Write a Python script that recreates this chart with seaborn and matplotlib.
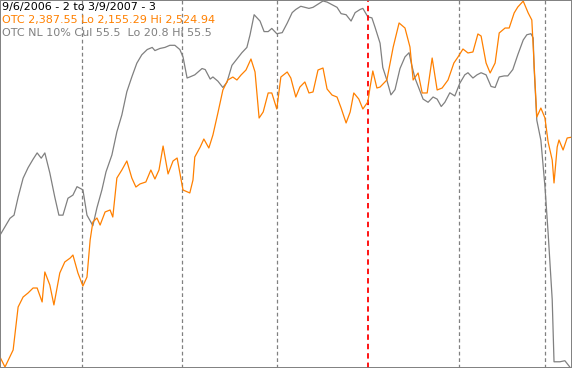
import matplotlib
matplotlib.use("Agg")
import matplotlib.pyplot as plt
import seaborn as sns
import pandas as pd

# ---- data (trading-day index from 9/6/2006) ----
otc_day = [0.0, 1.1, 2.9, 4.0, 5.1, 6.2, 7.3, 8.2, 9.3, 9.9, 11.0, 11.9, 13.2, 14.3, 15.5, 16.1, 17.2,
           18.3, 19.2, 19.9, 20.5, 21.4, 22.1, 23.2, 24.3, 24.9, 25.8, 26.9, 28.0, 29.1, 30.0, 30.9,
           32.2, 33.3, 34.2, 35.1, 36.0, 37.1, 38.2, 39.1, 40.4, 41.9, 42.6, 43.0, 44.2, 45.0, 46.1,
           47.0, 48.1, 49.2, 50.3, 51.4, 52.3, 53.2, 54.3, 55.4, 56.3, 57.2, 58.1, 59.2, 60.0, 61.1,
           62.0, 63.4, 64.2, 65.3, 66.2, 67.3, 68.2, 69.1, 70.2, 71.3, 72.2, 73.3, 74.4, 75.3, 76.4,
           77.3, 78.1, 79.2, 80.1, 81.2, 81.7, 82.3, 83.2, 83.9, 85.4, 86.8, 88.1, 89.4, 90.5, 91.2,
           92.3, 93.2, 94.3, 95.4, 96.5, 97.6, 98.9, 100.2, 101.1, 102.2, 103.3, 104.4, 105.5, 106.2,
           107.3, 108.2, 109.3, 110.2, 111.5, 112.4, 113.5, 114.3, 115.5, 116.6, 117.4, 117.9, 118.5,
           119.4, 120.3, 121.0, 121.9, 122.3, 123.0, 123.4, 124.3, 125.2, 126.3]
otc_val = [2165.4, 2155.3, 2172.5, 2215.9, 2226.0, 2230.1, 2235.1, 2235.1, 2221.0, 2251.3, 2238.1,
           2218.0, 2250.3, 2261.4, 2265.4, 2268.4, 2250.3, 2237.1, 2246.2, 2283.6, 2301.8, 2305.8,
           2298.7, 2311.9, 2313.9, 2306.8, 2346.2, 2354.3, 2363.4, 2346.2, 2337.1, 2340.2, 2342.2,
           2354.3, 2345.2, 2354.3, 2378.5, 2350.3, 2363.4, 2366.4, 2334.1, 2331.1, 2344.2, 2367.4,
           2377.5, 2385.6, 2376.5, 2389.6, 2411.9, 2435.1, 2445.2, 2448.2, 2445.2, 2450.2, 2455.3,
           2466.4, 2453.3, 2406.8, 2412.9, 2432.1, 2432.1, 2415.9, 2448.2, 2453.3, 2447.2, 2428.0,
           2438.1, 2443.2, 2432.1, 2433.1, 2455.3, 2457.3, 2436.1, 2430.0, 2428.0, 2416.9, 2401.8,
           2412.9, 2432.1, 2426.0, 2415.9, 2423.0, 2438.1, 2454.3, 2437.1, 2438.1, 2445.2, 2478.5,
           2502.8, 2497.7, 2478.5, 2445.2, 2452.3, 2432.1, 2432.1, 2467.4, 2435.1, 2437.1, 2445.2,
           2462.4, 2468.4, 2476.5, 2472.5, 2473.5, 2491.7, 2489.6, 2462.4, 2452.3, 2462.4, 2492.7,
           2497.7, 2497.7, 2512.9, 2518.9, 2524.9, 2512.9, 2505.8, 2460.3, 2407.8, 2416.9, 2406.8,
           2382.6, 2364.4, 2341.2, 2377.5, 2384.6, 2374.5, 2386.6, 2387.55]

nl_day = [0.0, 1.1, 2.2, 3.1, 4.0, 5.1, 6.2, 7.3, 8.2, 9.1, 9.9, 11.0, 12.1, 13.0, 13.9, 15.0, 16.1,
          17.0, 18.3, 19.2, 20.5, 21.4, 22.5, 23.4, 24.7, 25.8, 26.9, 28.0, 29.1, 30.2, 31.3, 32.5,
          33.6, 34.2, 35.3, 36.4, 37.5, 38.6, 39.7, 40.4, 41.3, 41.9, 43.0, 44.6, 45.3, 46.4, 47.0,
          48.1, 49.2, 50.1, 51.2, 52.3, 53.4, 54.5, 55.2, 56.1, 57.4, 58.3, 59.2, 60.0, 61.1, 62.3,
          63.4, 64.5, 65.3, 66.4, 67.3, 68.2, 69.1, 70.2, 71.3, 72.2, 73.5, 74.4, 75.3, 76.4, 77.5,
          78.4, 79.5, 80.1, 81.2, 82.1, 82.8, 83.9, 84.5, 85.4, 86.3, 87.2, 88.3, 89.4, 90.3, 90.9,
          91.6, 92.5, 93.4, 94.5, 95.6, 96.5, 97.4, 98.2, 99.3, 100.4, 101.5, 102.6, 103.3, 104.4,
          105.3, 106.2, 107.3, 108.4, 109.3, 110.2, 111.3, 112.1, 113.2, 114.3, 115.5, 116.3, 117.2,
          117.7, 117.9, 118.5, 119.4, 120.3, 121.0, 121.9, 122.3, 123.6, 124.7, 125.8]
nl_val = [43.0, 42.2, 41.4, 41.1, 39.4, 37.6, 36.6, 35.8, 35.2, 35.7, 35.2, 37.1, 39.4, 41.1, 41.1,
          39.5, 39.2, 38.4, 38.7, 41.1, 42.1, 40.4, 38.7, 37.0, 35.4, 33.2, 31.6, 29.4, 28.0, 26.7,
          25.9, 25.4, 25.2, 25.5, 25.3, 25.2, 25.0, 25.0, 25.4, 26.1, 28.1, 28.0, 27.8, 27.2, 27.3,
          28.2, 28.0, 28.4, 29.0, 28.5, 26.9, 26.3, 25.7, 25.2, 24.0, 22.1, 22.7, 23.7, 23.7, 23.4,
          23.9, 23.8, 22.9, 21.9, 21.6, 21.3, 21.4, 21.5, 21.4, 21.1, 20.8, 20.9, 21.2, 21.4, 22.0,
          22.1, 22.7, 21.9, 21.6, 21.5, 22.3, 22.4, 23.3, 24.8, 27.1, 28.3, 29.7, 29.2, 27.2, 26.1,
          25.7, 26.9, 28.1, 29.1, 30.1, 30.4, 29.9, 30.1, 30.8, 30.4, 29.5, 29.8, 28.6, 27.8, 27.6,
          28.1, 27.8, 27.6, 27.8, 28.9, 29.0, 28.0, 27.9, 27.9, 27.3, 25.9, 24.5, 24.0, 23.9, 24.3,
          27.1, 32.1, 34.0, 38.4, 42.8, 49.1, 55.0, 55.0, 54.9, 55.5]

month_starts = [18.1, 40.2, 61.1, 81.2, 101.3, 120.3]
year_start = 81.2

title_lines = ["9/6/2006 - 2 to 3/9/2007 - 3",
               "OTC 2,387.55 Lo 2,155.29 Hi 2,524.94",
               "OTC NL 10% Cul 55.5  Lo 20.8 Hi 55.5"]

ORANGE = "#FF8000"
GRAY = "#808080"

sns.set_style("white")
plt.rcParams['font.family'] = ['DejaVu Sans']

fig = plt.figure(figsize=(5.72, 3.68), dpi=100)
ax = fig.add_axes([0, 0, 1, 1])
ax2 = ax.twinx()

for d in month_starts:
    if d == year_start:
        ax.axvline(d, color="#FF0000", lw=1.3, ls=(0, (3, 2.2)), zorder=1)
    else:
        ax.axvline(d, color=GRAY, lw=0.9, ls=(0, (3, 2.2)), zorder=1)

otc = pd.DataFrame({"day": otc_day, "val": otc_val})
nl = pd.DataFrame({"day": nl_day, "val": nl_val})
sns.lineplot(data=nl, x="day", y="val", ax=ax2, color=GRAY, lw=0.9, estimator=None, sort=False)
sns.lineplot(data=otc, x="day", y="val", ax=ax, color=ORANGE, lw=0.9, estimator=None, sort=False)

ax.set_zorder(ax2.get_zorder() + 1)
ax.patch.set_visible(False)

ax.set_xlim(0, 126.27)
ax2.set_xlim(0, 126.27)
ax.set_ylim(2154.3, 2526.0)
ax2.set_ylim(55.59, 20.705)

for a in (ax, ax2):
    a.set_xticks([]); a.set_yticks([])
    a.set_xlabel(""); a.set_ylabel("")
    for s in a.spines.values():
        s.set_color(GRAY)
        s.set_linewidth(1.2)

colors = ["black", ORANGE, GRAY]
for i, (t, c) in enumerate(zip(title_lines, colors)):
    fig.text(2 / 572, 1 - (7 + 13 * i) / 368, t, color=c, fontsize=8, va="center", ha="left")

fig.savefig("out.png", dpi=100)
